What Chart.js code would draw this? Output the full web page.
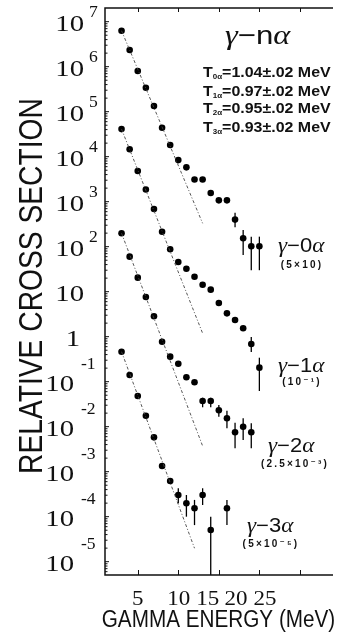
<!DOCTYPE html>
<html>
<head>
<meta charset="utf-8">
<script src="https://cdn.jsdelivr.net/npm/chart.js@4.4.1/dist/chart.umd.min.js"></script>
<style>
  html, body { margin: 0; padding: 0; background: #fff; }
  canvas { display: block; }
</style>
</head>
<body>
<canvas id="chart" width="337" height="641"></canvas>
<script>
// gamma -> n alpha, four curves, each already multiplied by its scale factor
const energy0 = [3, 4, 5, 6, 7, 8, 9, 10, 11, 12, 13, 14, 15, 16, 17, 18, 19, 20];
const sigma0 = [6.3e6, 2.35e6, 8.0e5, 3.4e5, 1.34e5, 4.4e4, 1.82e4, 8.4e3, 5.8e3, 3.1e3, 3.1e3, 1.56e3, 1.07e3, 1.07e3, 400, 154, 102, 102];
const errLow0 = [null, null, null, null, null, null, null, null, null, null, null, null, null, null, 270, 65, 30, 30];
const errHigh0 = [null, null, null, null, null, null, null, null, null, null, null, null, null, null, 570, 235, 167, 167];

const energy1 = [3, 4, 5, 6, 7, 8, 9, 10, 11, 12, 13, 14, 15, 16, 17, 18, 19, 20];
const sigma1 = [4.1e4, 1.46e4, 4.8e3, 1.87e3, 689, 215, 88, 45.7, 32.4, 21.5, 14.3, 11.1, 5.6, 3.3, 2.35, 1.54, 0.69, 0.205];
const errLow1 = [null, null, null, null, null, null, null, null, null, null, null, null, null, null, null, null, 0.457, 0.062];
const errHigh1 = [null, null, null, null, null, null, null, null, null, null, null, null, null, null, null, null, 0.98, 0.341];

const energy2 = [3, 4, 5, 6, 7, 8, 9, 10, 11, 12, 13, 14, 15, 16, 17, 18, 19];
const sigma2 = [199, 60, 20.5, 7.6, 2.84, 0.774, 0.36, 0.251, 0.125, 0.097, 0.0373, 0.0373, 0.0231, 0.0154, 0.0075, 0.01, 0.0075];
const errLow2 = [null, null, null, null, null, null, null, null, null, null, 0.027, 0.027, 0.0167, 0.0092, 0.0033, 0.00506, 0.0033];
const errHigh2 = [null, null, null, null, null, null, null, null, null, null, 0.044, 0.044, 0.0303, 0.0227, 0.0123, 0.0154, 0.0119];

const energy3 = [3, 4, 5, 6, 7, 8, 9, 10, 11, 12, 13, 14, 16];
const sigma3 = [0.464, 0.141, 0.0481, 0.01755, 0.0058, 0.00134, 6.2e-4, 3.03e-4, 1.99e-4, 1.54e-4, 3.03e-4, 5.06e-5, 1.54e-4];
const errLow3 = [null, null, null, null, null, null, null, 1.99e-4, 1.0e-4, 6.5e-5, 1.82e-4, 1e-6, 6.5e-5];
const errHigh3 = [null, null, null, null, null, null, null, 4.28e-4, 3.03e-4, 2.36e-4, 4.28e-4, 1.0e-4, 2.36e-4];

// exponential fits (dash-dot lines)
const fitEnergy0 = [3, 13], fitSigma0 = [6.3e6, 331];
const fitEnergy1 = [3, 13], fitSigma1 = [4.1e4, 1.19];
const fitEnergy2 = [3, 13], fitSigma2 = [199, 0.00372];
const fitEnergy3 = [3, 12], fitSigma3 = [0.464, 1.99e-5];

const curveChannels = ['0', '1', '2', '3'];
const curveFactors = ['(5×10)', '(10⁻¹)', '(2.5×10⁻³)', '(5×10⁻⁵)'];
const temperatures = ['1.04', '0.97', '0.95', '0.93'];
const tempError = '.02';

const xTicks = [5, 10, 15, 20, 25];
const yDecades = [7, 6, 5, 4, 3, 2, 1, 0, -1, -2, -3, -4, -5];

function pts(xs, ys) {
    return xs.map((x, i) => ({ x: x, y: ys[i] }));
}

function pointSet(xs, ys, lo, hi) {
    return {
        type: 'scatter',
        data: pts(xs, ys),
        errLow: lo,
        errHigh: hi,
        backgroundColor: '#000',
        borderWidth: 0,
        pointRadius: 3.3,
        showLine: false
    };
}

function fitSet(xs, ys) {
    return {
        type: 'line',
        data: pts(xs, ys),
        borderColor: '#444',
        borderWidth: 0.9,
        borderDash: [3, 2, 1, 2],
        pointRadius: 0,
        fill: false
    };
}

function drawRuns(ctx, x, y, runs, sx) {
    ctx.save();
    ctx.translate(x, y);
    ctx.scale(sx, 1);
    ctx.textAlign = 'left';
    ctx.textBaseline = 'alphabetic';
    let cx = 0;
    runs.forEach(r => {
        ctx.font = r.font;
        ctx.fillText(r.t, cx, r.dy || 0);
        cx += ctx.measureText(r.t).width;
    });
    ctx.restore();
}

function drawScaled(ctx, text, x, y, sx, align) {
    ctx.save();
    ctx.translate(x, y);
    ctx.scale(sx, 1);
    ctx.textAlign = align;
    ctx.fillText(text, 0, 0);
    ctx.restore();
}

const errorBars = {
    id: 'errorBars',
    beforeDatasetsDraw(chart) {
        const ctx = chart.ctx, a = chart.chartArea;
        const xs = chart.scales.x, ys = chart.scales.y;
        ctx.save();
        ctx.beginPath();
        ctx.rect(a.left, a.top, a.right - a.left, a.bottom - a.top);
        ctx.clip();
        ctx.strokeStyle = '#000';
        ctx.lineWidth = 1.3;
        chart.data.datasets.forEach(ds => {
            if (!ds.errLow) return;
            ds.data.forEach((p, i) => {
                if (ds.errLow[i] == null) return;
                const px = xs.getPixelForValue(p.x);
                ctx.beginPath();
                ctx.moveTo(px, ys.getPixelForValue(ds.errLow[i]));
                ctx.lineTo(px, ys.getPixelForValue(ds.errHigh[i]));
                ctx.stroke();
            });
        });
        ctx.restore();
    }
};

const frame = {
    id: 'frame',
    afterDraw(chart) {
        const ctx = chart.ctx, a = chart.chartArea;
        const xs = chart.scales.x, ys = chart.scales.y;
        ctx.save();
        ctx.strokeStyle = '#111';
        ctx.fillStyle = '#111';

        // axis lines (no right side)
        ctx.lineWidth = 1.5;
        ctx.beginPath();
        ctx.moveTo(a.right, a.top); ctx.lineTo(a.left, a.top);
        ctx.lineTo(a.left, a.bottom); ctx.lineTo(a.right, a.bottom);
        ctx.stroke();

        // x ticks, inward on top and bottom
        ctx.lineWidth = 1;
        xTicks.forEach(v => {
            const px = Math.round(xs.getPixelForValue(v)) + 0.5;
            ctx.beginPath();
            ctx.moveTo(px, a.top); ctx.lineTo(px, a.top + 4);
            ctx.moveTo(px, a.bottom); ctx.lineTo(px, a.bottom - 5);
            ctx.stroke();
        });

        // y ticks: decades and minor 2..9
        yDecades.forEach(k => {
            for (let m = 1; m <= 9; m++) {
                const v = m * Math.pow(10, k - 1);
                const py = ys.getPixelForValue(v);
                if (py < a.top || py > a.bottom) continue;
                ctx.beginPath();
                ctx.moveTo(a.left, py);
                ctx.lineTo(a.left + (m === 1 ? 4 : 2.5), py);
                ctx.stroke();
            }
        });
        [Math.pow(10, 7)].forEach(v => {
            const py = ys.getPixelForValue(v);
            ctx.beginPath(); ctx.moveTo(a.left, py); ctx.lineTo(a.left + 4, py); ctx.stroke();
        });

        // y tick labels as 10 with raised exponent
        ctx.textBaseline = 'middle';
        yDecades.forEach(k => {
            const py = ys.getPixelForValue(Math.pow(10, k));
            if (k === 0) {
                ctx.font = '23px "Liberation Serif"';
                drawScaled(ctx, '1', 73, py + 3, 1.25, 'center');
            } else if (k > 0) {
                ctx.font = '23px "Liberation Serif"';
                drawScaled(ctx, '10', 84, py + 3, 1.25, 'right');
                if (k > 1) {
                    ctx.font = '16px "Liberation Serif"';
                    drawScaled(ctx, String(k), 89, py - 9, 1.1, 'left');
                }
            } else {
                ctx.font = '23px "Liberation Serif"';
                drawScaled(ctx, '10', 74, py + 3, 1.25, 'right');
                ctx.font = '16px "Liberation Serif"';
                drawScaled(ctx, '-' + (-k), 81, py - 17, 1.1, 'left');
            }
        });

        // x tick labels (sit a little left of their ticks in the original)
        const labelShift = [0, 0.5, -11, -23.5, -35];
        ctx.font = '20px "Liberation Serif"';
        ctx.textBaseline = 'alphabetic';
        xTicks.forEach((v, i) => {
            drawScaled(ctx, String(v), xs.getPixelForValue(v) + labelShift[i], 605, 1.15, 'center');
        });

        // axis titles
        ctx.font = '23px "Liberation Sans"';
        drawScaled(ctx, 'GAMMA ENERGY (MeV)', 218.5, 627, 0.9, 'center');
        ctx.save();
        ctx.translate(42, 286);
        ctx.rotate(-Math.PI / 2);
        ctx.scale(0.83, 1);
        ctx.font = '34px "Liberation Sans"';
        ctx.textAlign = 'center';
        ctx.fillText('RELATIVE CROSS SECTION', 0, 0);
        ctx.restore();

        // heading and temperatures
        drawRuns(ctx, 225, 44, [
            { t: 'γ', font: 'italic 27px "Liberation Serif"' },
            { t: '−n', font: '26px "Liberation Sans"' },
            { t: 'α', font: 'italic 27px "Liberation Serif"' }
        ], 1.2);
        const tBase = [77, 95.5, 113, 131.5];
        temperatures.forEach((t, i) => {
            drawRuns(ctx, 203, tBase[i], [
                { t: 'T', font: 'bold 14px "Liberation Sans"' },
                { t: curveChannels[i] + 'α', font: 'bold 7px "Liberation Sans"', dy: 2 },
                { t: '=' + t + '±' + tempError + ' MeV', font: 'bold 14px "Liberation Sans"' }
            ], 1.14);
        });

        // curve labels with their scale factors
        const labelPos = [[278, 252, 302, 268], [278, 372, 302, 385], [268, 452, 295, 467], [247, 532, 271, 547]];
        curveChannels.forEach((c, i) => {
            const p = labelPos[i];
            drawRuns(ctx, p[0], p[1], [
                { t: 'γ', font: 'italic 21px "Liberation Serif"' },
                { t: '−' + c, font: '20px "Liberation Sans"' },
                { t: 'α', font: 'italic 21px "Liberation Serif"' }
            ], 1.1);
            ctx.font = 'bold 10px "Liberation Sans", "DejaVu Sans"';
            ctx.letterSpacing = '2.2px';
            ctx.textAlign = 'center';
            ctx.fillText(curveFactors[i], p[2], p[3]);
            ctx.letterSpacing = '0px';
        });

        ctx.restore();
    }
};

new Chart(document.getElementById('chart').getContext('2d'), {
    data: {
        datasets: [
            fitSet(fitEnergy0, fitSigma0),
            fitSet(fitEnergy1, fitSigma1),
            fitSet(fitEnergy2, fitSigma2),
            fitSet(fitEnergy3, fitSigma3),
            pointSet(energy0, sigma0, errLow0, errHigh0),
            pointSet(energy1, sigma1, errLow1, errHigh1),
            pointSet(energy2, sigma2, errLow2, errHigh2),
            pointSet(energy3, sigma3, errLow3, errHigh3)
        ]
    },
    options: {
        responsive: false,
        animation: false,
        devicePixelRatio: 1,
        layout: { padding: { left: 105, top: 8, right: 0, bottom: 66 } },
        scales: {
            x: { type: 'linear', min: 0.96, max: 29.08, display: false },
            y: { type: 'logarithmic', min: Math.pow(10, -5.296), max: Math.pow(10, 7.304), display: false }
        },
        plugins: {
            legend: { display: false },
            tooltip: { enabled: false }
        }
    },
    plugins: [errorBars, frame]
});
</script>
</body>
</html>
